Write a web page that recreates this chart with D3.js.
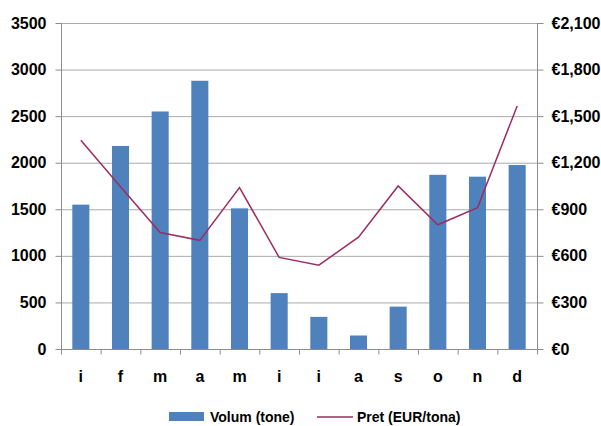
<!DOCTYPE html>
<html><head><meta charset="utf-8">
<script src="https://cdn.jsdelivr.net/npm/d3@7"></script>
<style>body{margin:0;background:#fff;} svg{display:block;}</style>
</head><body>
<svg id="c" width="601" height="426"></svg>
<script>
const categories = ["i","f","m","a","m","i","i","a","s","o","n","d"];
const volum = [1550, 2180, 2550, 2880, 1510, 600, 345, 145, 455, 1870, 1850, 1975];
const pret = [1345, 1045, 750, 700, 1040, 590, 540, 720, 1050, 800, 910, 1565];
const leftTicks = [0,500,1000,1500,2000,2500,3000,3500];
const rightTicks = [0,300,600,900,1200,1500,1800,2100];
const seriesNames = ["Volum (tone)", "Pret (EUR/tona)"];

const svg = d3.select("#c");
const L = 61, R = 537, T = 23, B = 349;
const font = "'Liberation Sans', Arial, sans-serif";
const x = d3.scaleBand().domain(d3.range(categories.length)).range([L, R]);
const yL = d3.scaleLinear().domain([0, 3500]).range([B, T]);
const yR = d3.scaleLinear().domain([0, 2100]).range([B, T]);

// gridlines
svg.append("g").selectAll("line").data(leftTicks.slice(1)).join("line")
  .attr("x1", L).attr("x2", R).attr("y1", d => yL(d)+0.5).attr("y2", d => yL(d)+0.5)
  .attr("stroke", "#ababab").attr("stroke-width", 1);

// bars
const bw = x.bandwidth() * 0.43;
svg.append("g").selectAll("rect").data(volum).join("rect")
  .attr("x", (d,i) => x(i) + x.bandwidth()/2 - bw/2)
  .attr("y", d => yL(d)).attr("width", bw).attr("height", d => B - yL(d))
  .attr("fill", "#4f81bd");

// line
const line = d3.line().x((d,i) => x(i) + x.bandwidth()/2).y(d => yR(d));
svg.append("path").datum(pret).attr("d", line).attr("fill", "none")
  .attr("stroke", "#9b2d62").attr("stroke-width", 1.5);

// left axis
const axL = svg.append("g").attr("transform", `translate(${L+0.5},0)`)
  .call(d3.axisLeft(yL).tickValues(leftTicks).tickSize(6).tickPadding(9).tickFormat(d3.format("d")));
// right axis
const axR = svg.append("g").attr("transform", `translate(${R+0.5},0)`)
  .call(d3.axisRight(yR).tickValues(rightTicks).tickSize(6).tickPadding(8)
    .tickFormat(d => "€" + d3.format(",")(d)));
// bottom axis
const xb = d3.scaleLinear().domain([0, categories.length]).range([L, R]);
const axB = svg.append("g").attr("transform", `translate(0,${B+0.5})`)
  .call(d3.axisBottom(xb).ticks(12).tickValues(d3.range(categories.length+1)).tickSize(5).tickFormat(""));
[axL, axR, axB].forEach(a => {
  a.select(".domain").attr("stroke", "#8c8c8c");
  a.selectAll(".tick line").attr("stroke", "#8c8c8c");
  a.selectAll("text").attr("font-family", font).attr("font-weight", "bold")
    .attr("font-size", 16).attr("fill", "#000");
});
axL.select(".domain").attr("d", `M-6,${T}H0V${B}`).attr("d", `M0,${T}V${B}`);
axR.select(".domain").attr("d", `M0,${T}V${B}`);
axB.select(".domain").attr("d", `M${L},0H${R}`);

// x labels
svg.append("g").selectAll("text").data(categories).join("text")
  .attr("x", (d,i) => x(i) + x.bandwidth()/2).attr("y", 382)
  .attr("text-anchor", "middle").attr("font-family", font).attr("font-weight", "bold")
  .attr("font-size", 16).text(d => d);

// legend
const lg = svg.append("g");
lg.append("rect").attr("x", 169).attr("y", 412).attr("width", 35).attr("height", 9).attr("fill", "#4f81bd");
lg.append("text").attr("x", 210).attr("y", 422).attr("font-family", font).attr("font-weight", "bold")
  .attr("font-size", 14).text(seriesNames[0]);
lg.append("line").attr("x1", 317).attr("x2", 353).attr("y1", 417).attr("y2", 417)
  .attr("stroke", "#9b2d62").attr("stroke-width", 1.5);
lg.append("text").attr("x", 357).attr("y", 422).attr("font-family", font).attr("font-weight", "bold")
  .attr("font-size", 14).text(seriesNames[1]);
</script>
</body></html>
